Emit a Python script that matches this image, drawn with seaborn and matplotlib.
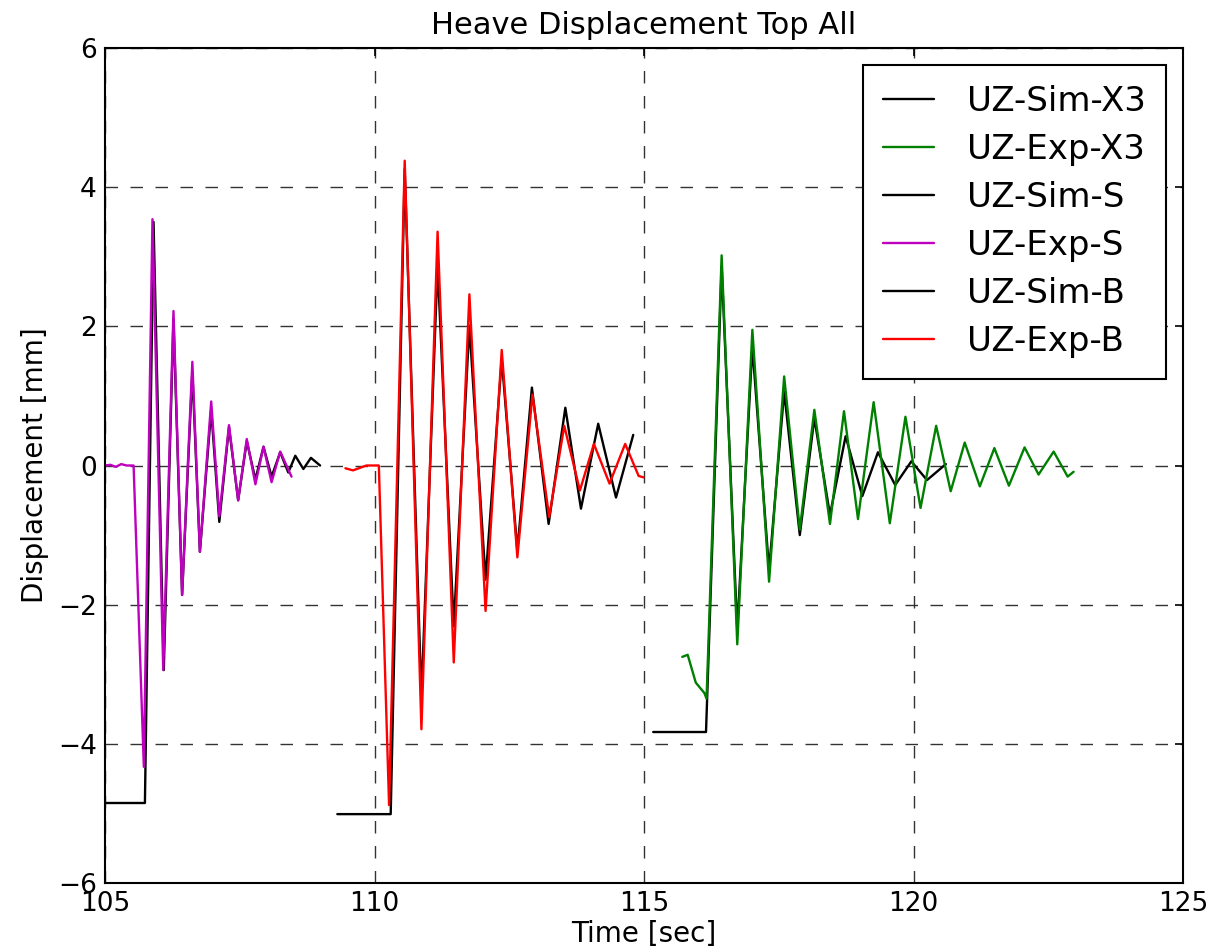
import matplotlib
matplotlib.use("Agg")
import matplotlib.pyplot as plt
import seaborn as sns
import pandas as pd

# ---- data ----
sim_s_t = [105.0, 105.74, 105.90, 106.09, 106.27, 106.43, 106.62, 106.76, 106.97, 107.12, 107.30,
           107.47, 107.63, 107.79, 107.94, 108.09, 108.25, 108.40, 108.53, 108.68, 108.82, 108.99]
sim_s_v = [-4.85, -4.85, 3.50, -2.94, 2.10, -1.86, 1.35, -1.24, 0.80, -0.81, 0.55,
           -0.50, 0.35, -0.20, 0.27, -0.16, 0.19, -0.10, 0.14, -0.05, 0.11, 0.0]

exp_s_t = [105.0, 105.1, 105.2, 105.3, 105.4, 105.53, 105.72, 105.88, 106.08, 106.27, 106.43,
           106.62, 106.76, 106.97, 107.12, 107.30, 107.47, 107.63, 107.79, 107.94, 108.09, 108.25, 108.46]
exp_s_v = [0.0, 0.01, -0.02, 0.02, 0.0, 0.0, -4.33, 3.54, -2.94, 2.22, -1.86,
           1.49, -1.24, 0.92, -0.73, 0.58, -0.50, 0.38, -0.27, 0.27, -0.24, 0.20, -0.16]

sim_b_t = [109.31, 110.30, 110.56, 110.87, 111.17, 111.47, 111.76, 112.06, 112.36, 112.65,
           112.92, 113.23, 113.54, 113.83, 114.15, 114.48, 114.80]
sim_b_v = [-5.01, -5.01, 4.26, -3.34, 2.88, -2.31, 2.01, -1.64, 1.53, -1.22,
           1.12, -0.84, 0.83, -0.62, 0.60, -0.46, 0.44]

exp_b_t = [109.46, 109.6, 109.85, 110.08, 110.27, 110.56, 110.87, 111.17, 111.47, 111.76, 112.06,
           112.36, 112.65, 112.93, 113.24, 113.52, 113.81, 114.07, 114.36, 114.65, 114.90, 114.99]
exp_b_v = [-0.04, -0.07, 0.0, 0.0, -4.88, 4.38, -3.79, 3.36, -2.83, 2.46, -2.09,
           1.66, -1.32, 1.02, -0.74, 0.57, -0.36, 0.31, -0.26, 0.31, -0.15, -0.17]

sim_x3_t = [115.17, 116.15, 116.44, 116.73, 117.01, 117.32, 117.60, 117.89, 118.16, 118.45,
            118.74, 119.05, 119.34, 119.66, 119.96, 120.25, 120.60]
sim_x3_v = [-3.83, -3.83, 2.86, -2.36, 1.71, -1.50, 1.06, -1.00, 0.68, -0.71,
            0.42, -0.44, 0.19, -0.28, 0.06, -0.21, 0.02]

exp_x3_t = [115.71, 115.81, 115.96, 116.12, 116.16, 116.44, 116.73, 117.01, 117.32, 117.60,
            117.89, 118.16, 118.45, 118.71, 118.97, 119.26, 119.56, 119.85, 120.13, 120.42,
            120.69, 120.95, 121.23, 121.50, 121.77, 122.06, 122.32, 122.60, 122.86, 122.97]
exp_x3_v = [-2.75, -2.72, -3.12, -3.27, -3.35, 3.02, -2.57, 1.95, -1.67, 1.28,
            -0.92, 0.80, -0.84, 0.78, -0.77, 0.91, -0.83, 0.70, -0.61, 0.57,
            -0.37, 0.33, -0.30, 0.25, -0.29, 0.26, -0.13, 0.20, -0.16, -0.09]

series_names = ["UZ-Sim-X3", "UZ-Exp-X3", "UZ-Sim-S", "UZ-Exp-S", "UZ-Sim-B", "UZ-Exp-B"]
series_colors = ["black", "#008000", "black", "#bf00bf", "black", "#ff0000"]
x_ticks = [105, 110, 115, 120, 125]
y_ticks = [-6, -4, -2, 0, 2, 4, 6]

series_data = [
    (sim_x3_t, sim_x3_v), (exp_x3_t, exp_x3_v),
    (sim_s_t, sim_s_v), (exp_s_t, exp_s_v),
    (sim_b_t, sim_b_v), (exp_b_t, exp_b_v),
]

sns.set_style("white")
plt.rcParams["font.family"] = ["DejaVu Sans"]
plt.rcParams["text.color"] = "black"
plt.rcParams["axes.labelcolor"] = "black"
plt.rcParams["xtick.color"] = "black"
plt.rcParams["ytick.color"] = "black"

fig = plt.figure(figsize=(12.1, 9.5), dpi=100)
ax = fig.add_axes([0.0868, 0.0705, 0.8909, 0.879])

for name, color, (t, v) in zip(series_names, series_colors, series_data):
    df = pd.DataFrame({"t": t, "v": v})
    sns.lineplot(data=df, x="t", y="v", ax=ax, color=color, label=name,
                 sort=False, estimator=None, linewidth=1.7)

ax.set_xlim(105, 125)
ax.set_ylim(-6, 6)
ax.set_xticks(x_ticks)
ax.set_yticks(y_ticks)
ax.set_xticklabels([str(x) for x in x_ticks])
ax.set_yticklabels([f"{y}".replace("-", "\u2212") for y in y_ticks])
ax.tick_params(direction="in", length=6, width=1.2, top=True, right=True,
               labelsize=19, pad=6, colors="black", labelcolor="black")
ax.grid(True, color="#333333", linestyle=(0, (9, 9)), linewidth=1.0)
for sp in ax.spines.values():
    sp.set_color("black")
    sp.set_linewidth(1.5)

ax.set_title("Heave Displacement Top All", fontsize=22, pad=10, color="black")
ax.set_xlabel("Time [sec]", fontsize=20, labelpad=2, color="black")
ax.set_ylabel("Displacement [mm]", fontsize=20, labelpad=6, color="black")

leg = ax.legend(loc="upper right", fontsize=24.5, frameon=True, fancybox=False,
                framealpha=1, edgecolor="black", handlelength=1.5,
                handletextpad=0.95, labelspacing=0.44, borderpad=0.6,
                borderaxespad=0.5)
leg.get_frame().set_linewidth(1.5)
for txt in leg.get_texts():
    txt.set_color("black")

fig.savefig("out.png", dpi=100)
